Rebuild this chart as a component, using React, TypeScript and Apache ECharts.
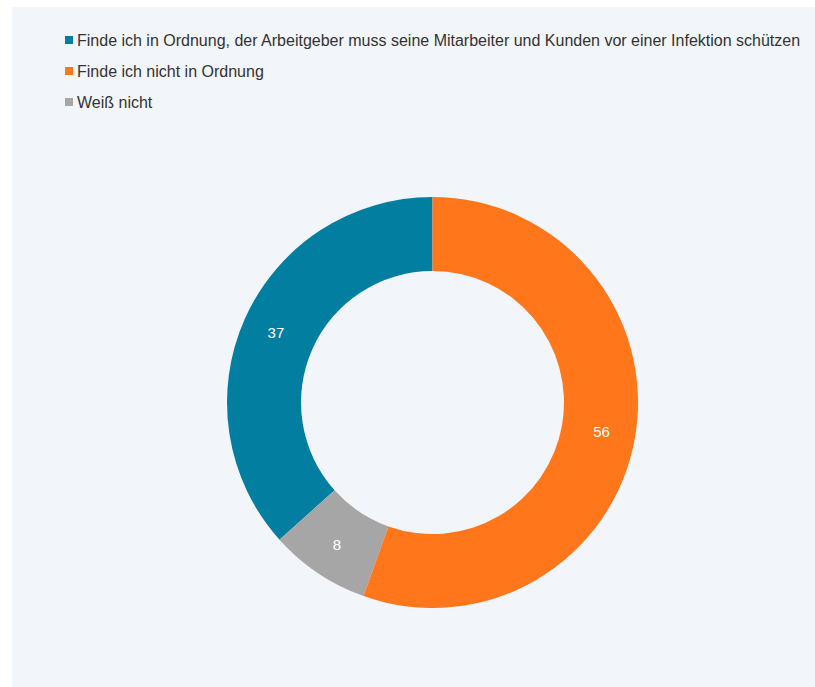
import React, { useEffect, useRef } from "react";
import * as echarts from "echarts";

const categories = [
  "Finde ich in Ordnung, der Arbeitgeber muss seine Mitarbeiter und Kunden vor einer Infektion schützen",
  "Finde ich nicht in Ordnung",
  "Weiß nicht",
];
const values = [37, 56, 8];
const colors = ["#027fa0", "#ff761b", "#a6a6a6"];
// drawing order (counter-clockwise from top): blue, gray, orange
const drawOrder = [0, 2, 1];

export default function App() {
  const ref = useRef<HTMLDivElement>(null);
  useEffect(() => {
    if (!ref.current) return;
    const chart = echarts.init(ref.current, undefined, { renderer: "svg" });
    const font = "'Liberation Sans', Arial, sans-serif";
    chart.setOption({
      animation: false,
      backgroundColor: "#f2f5f9",
      legend: {
        orient: "vertical",
        left: 48,
        top: 20,
        itemWidth: 8,
        itemHeight: 8,
        itemGap: 15,
        icon: "rect",
        data: categories,
        textStyle: { fontFamily: font, fontSize: 16, color: "#333333", padding: [0, 0, 0, -1] },
      },
      series: [
        {
          type: "pie",
          center: [420.5, 395.5],
          radius: [131.5, 205.5],
          startAngle: 90,
          clockwise: false,
          avoidLabelOverlap: false,
          label: {
            show: true,
            position: "inside",
            formatter: "{c}",
            color: "#ffffff",
            fontFamily: font,
            fontSize: 15,
          },
          labelLine: { show: false },
          emphasis: { disabled: true },
          data: drawOrder.map((i) => ({
            name: categories[i],
            value: values[i],
            itemStyle: { color: colors[i] },
          })),
        },
      ],
    });
    return () => chart.dispose();
  }, []);
  return (
    <div
      ref={ref}
      style={{ position: "absolute", left: 12, top: 7, width: 803, height: 680 }}
    />
  );
}
